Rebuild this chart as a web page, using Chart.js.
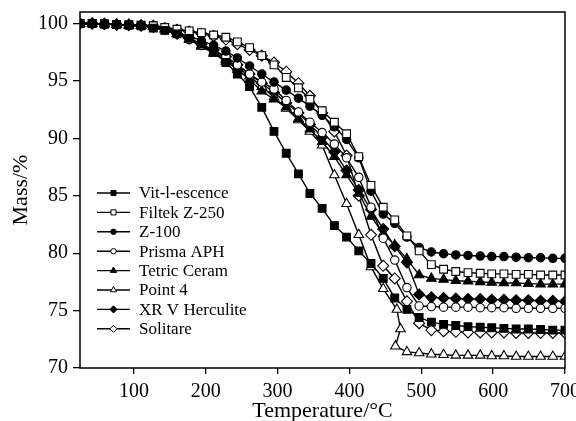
<!DOCTYPE html>
<html>
<head>
<meta charset="utf-8">
<script src="https://cdn.jsdelivr.net/npm/chart.js@4.4.1/dist/chart.umd.min.js"></script>
<style>
  html, body { margin: 0; padding: 0; background: #fff; }
</style>
</head>
<body>
<canvas id="tga" width="576" height="421"></canvas>
<script>
// temperature grid (°C) shared by most series
const temps = [25, 42, 59, 76, 93, 110, 127, 143, 160, 177, 194, 211, 228, 244, 261, 278, 295, 312, 329, 345,
  362, 379, 396, 413, 430, 447, 463, 480, 497, 514, 531, 548, 565, 582, 598, 615, 632, 649, 666, 683, 700];

// mass (%)
const vitEscence = [100, 100, 99.95, 99.9, 99.85, 99.8, 99.6, 99.4, 99.1, 98.7, 98.2, 97.5, 96.6, 95.6, 94.5, 92.7, 90.6, 88.7, 86.9, 85.2,
  83.9, 82.4, 81.4, 80.2, 79.1, 77.8, 76.1, 75.1, 74.4, 74.0, 73.8, 73.7, 73.6, 73.55, 73.5, 73.45, 73.4, 73.4, 73.35, 73.3, 73.3];
const filtekZ250 = [100, 100, 99.95, 99.9, 99.9, 99.85, 99.8, 99.65, 99.5, 99.35, 99.2, 99.0, 98.8, 98.4, 97.9, 97.2, 96.4, 95.3, 94.4, 93.4,
  92.4, 91.4, 90.4, 88.4, 85.9, 84.0, 82.9, 81.5, 80.2, 79.0, 78.6, 78.4, 78.3, 78.25, 78.2, 78.2, 78.15, 78.15, 78.1, 78.1, 78.1];
const z100 = [100, 100, 99.95, 99.9, 99.85, 99.8, 99.75, 99.5, 99.2, 98.9, 98.5, 98.1, 97.6, 97.0, 96.3, 95.6, 94.9, 94.2, 93.5, 92.8,
  92.0, 91.0, 89.9, 88.3, 85.4, 83.4, 82.6, 81.4, 80.5, 80.1, 79.95, 79.85, 79.8, 79.75, 79.7, 79.7, 79.65, 79.6, 79.6, 79.55, 79.55];
const prismaAPH = [100, 100, 99.95, 99.9, 99.85, 99.8, 99.75, 99.5, 99.1, 98.6, 98.1, 97.6, 97.1, 96.4, 95.6, 94.9, 94.3, 93.3, 92.3, 91.4,
  90.5, 89.5, 88.3, 86.6, 84.0, 81.3, 79.4, 77.0, 75.4, 75.35, 75.3, 75.3, 75.3, 75.25, 75.25, 75.25, 75.2, 75.2, 75.2, 75.2, 75.2];
const tetricCeram = [100, 100, 99.95, 99.9, 99.85, 99.8, 99.75, 99.5, 99.1, 98.6, 98.0, 97.4, 96.7, 96.0, 95.1, 94.1, 93.4, 92.7, 91.7, 90.8,
  89.7, 88.4, 86.8, 85.2, 83.2, 81.7, 80.7, 79.5, 78.1, 77.8, 77.7, 77.6, 77.55, 77.5, 77.45, 77.4, 77.4, 77.35, 77.3, 77.3, 77.3];
const xrvHerculite = [100, 100, 99.95, 99.9, 99.85, 99.8, 99.7, 99.5, 99.1, 98.7, 98.2, 97.7, 97.1, 96.4, 95.6, 94.8, 94.0, 93.1, 92.2, 91.2,
  90.1, 88.8, 87.2, 85.5, 83.8, 82.1, 80.6, 79.2, 76.4, 76.15, 76.1, 76.05, 76.0, 76.0, 75.95, 75.95, 75.9, 75.9, 75.85, 75.85, 75.8];
const solitare = [100, 100, 99.95, 99.9, 99.9, 99.85, 99.8, 99.6, 99.45, 99.3, 99.1, 98.9, 98.6, 98.2, 97.7, 97.2, 96.6, 95.8, 94.8, 93.7,
  92.2, 90.6, 88.5, 85.0, 81.6, 78.9, 77.8, 75.8, 73.9, 73.3, 73.2, 73.15, 73.1, 73.1, 73.1, 73.1, 73.05, 73.05, 73.05, 73.05, 73.05];

// Point 4 has a hook near 465 °C, so it keeps its own temperatures
const point4Temps = [25, 42, 59, 76, 93, 110, 127, 143, 160, 177, 194, 211, 228, 244, 261, 278, 295, 312, 329, 345,
  362, 379, 396, 413, 430, 447, 466, 471, 464, 480, 497, 514, 531, 548, 565, 582, 598, 615, 632, 649, 666, 683, 700];
const point4 = [100, 100, 99.95, 99.9, 99.85, 99.8, 99.75, 99.5, 99.1, 98.6, 98.1, 97.5, 96.9, 96.2, 95.4, 94.5, 93.6, 92.6, 91.6, 90.6,
  89.4, 86.8, 84.3, 81.6, 78.8, 76.9, 75.1, 73.4, 71.9, 71.4, 71.3, 71.2, 71.15, 71.1, 71.1, 71.1, 71.05, 71.05, 71.0, 71.0, 71.0, 71.0, 71.0];

const seriesNames = ["Vit-l-escence", "Filtek Z-250", "Z-100", "Prisma APH", "Tetric Ceram", "Point 4", "XR V Herculite", "Solitare"];
const xTicks = [100, 200, 300, 400, 500, 600, 700];
const yTicks = [70, 75, 80, 85, 90, 95, 100];

const FONT = '"Liberation Serif", "Times New Roman", serif';

function pts(xs, ys) {
  return xs.map((x, i) => ({ x, y: ys[i] }));
}

// marker look per series: [pointStyle, filled, radius]
const markers = [
  ["rect", true, 5.5],
  ["rect", false, 5.5],
  ["circle", true, 4.2],
  ["circle", false, 4.2],
  ["triangle", true, 5.5],
  ["triangle", false, 5.5],
  ["rectRot", true, 5.5],
  ["rectRot", false, 5.5],
];

const seriesData = [
  pts(temps, vitEscence),
  pts(temps, filtekZ250),
  pts(temps, z100),
  pts(temps, prismaAPH),
  pts(temps, tetricCeram),
  pts(point4Temps, point4),
  pts(temps, xrvHerculite),
  pts(temps, solitare),
];

const datasets = seriesNames.map((name, i) => ({
  label: name,
  data: seriesData[i],
  borderColor: "#000",
  borderWidth: 1.4,
  tension: 0,
  pointStyle: markers[i][0],
  pointRadius: markers[i][2],
  pointBackgroundColor: markers[i][1] ? "#000" : "#fff",
  pointBorderColor: "#000",
  pointBorderWidth: 1.1,
}));

function drawMarker(ctx, style, x, y, r, filled) {
  ctx.beginPath();
  if (style === "rect") {
    const s = r * Math.SQRT1_2;
    ctx.rect(x - s, y - s, 2 * s, 2 * s);
  } else if (style === "circle") {
    ctx.arc(x, y, r, 0, Math.PI * 2);
  } else if (style === "triangle") {
    ctx.moveTo(x, y - r);
    ctx.lineTo(x + r * 0.866, y + r * 0.5);
    ctx.lineTo(x - r * 0.866, y + r * 0.5);
    ctx.closePath();
  } else if (style === "rectRot") {
    ctx.moveTo(x, y - r);
    ctx.lineTo(x + r, y);
    ctx.lineTo(x, y + r);
    ctx.lineTo(x - r, y);
    ctx.closePath();
  }
  ctx.fillStyle = filled ? "#000" : "#fff";
  ctx.fill();
  ctx.lineWidth = 1;
  ctx.strokeStyle = "#000";
  ctx.stroke();
}

const frameAndLegend = {
  id: "frameAndLegend",
  afterDraw(chart) {
    const { ctx, chartArea: a } = chart;
    ctx.save();
    ctx.strokeStyle = "#000";
    ctx.lineWidth = 1.5;
    ctx.strokeRect(a.left, a.top, a.right - a.left, a.bottom - a.top);

    // legend inside the plot, lower left
    const x0 = a.left + 17, x1 = a.left + 50, top = 193, step = 19.4;
    ctx.font = "17px " + FONT;
    ctx.textBaseline = "middle";
    seriesNames.forEach((name, i) => {
      const y = top + i * step;
      ctx.beginPath();
      ctx.moveTo(x0, y);
      ctx.lineTo(x1, y);
      ctx.lineWidth = 1.4;
      ctx.strokeStyle = "#000";
      ctx.stroke();
      drawMarker(ctx, markers[i][0], (x0 + x1) / 2, y, markers[i][2] * 0.65, markers[i][1]);
      ctx.fillStyle = "#000";
      ctx.fillText(name, x1 + 9, y + 1);
    });
    ctx.restore();
  }
};

new Chart(document.getElementById("tga"), {
  type: "line",
  data: { datasets },
  options: {
    responsive: false,
    animation: false,
    devicePixelRatio: 1,
    layout: { padding: { left: 4, right: 11, top: 12, bottom: 0 } },
    plugins: { legend: { display: false }, tooltip: { enabled: false } },
    scales: {
      x: {
        type: "linear",
        min: 25,
        max: 700,
        afterBuildTicks: (axis) => { axis.ticks = xTicks.map(v => ({ value: v })); },
        afterFit: (axis) => { axis.height = 53; axis.paddingLeft = 0; axis.paddingRight = 0; },
        grid: { display: true, drawOnChartArea: false, drawTicks: true, tickLength: 6, color: "#000", lineWidth: 1.3 },
        border: { display: false },
        ticks: { color: "#000", font: { family: FONT, size: 20 }, padding: 6, maxRotation: 0 },
        title: { display: true, text: "Temperature/°C", color: "#000", font: { family: FONT, size: 22, lineHeight: 0.55 } },
      },
      y: {
        min: 70,
        max: 101,
        afterBuildTicks: (axis) => { axis.ticks = yTicks.map(v => ({ value: v })); },
        afterFit: (axis) => { axis.width = 76; axis.paddingTop = 0; axis.paddingBottom = 0; },
        grid: { display: true, drawOnChartArea: false, drawTicks: true, tickLength: 7, color: "#000", lineWidth: 1.3 },
        border: { display: false },
        ticks: { color: "#000", font: { family: FONT, size: 20 }, padding: 5 },
        title: { display: true, text: "Mass/%", color: "#000", font: { family: FONT, size: 22, lineHeight: 1.2 } },
      },
    },
  },
  plugins: [frameAndLegend],
});
</script>
</body>
</html>
